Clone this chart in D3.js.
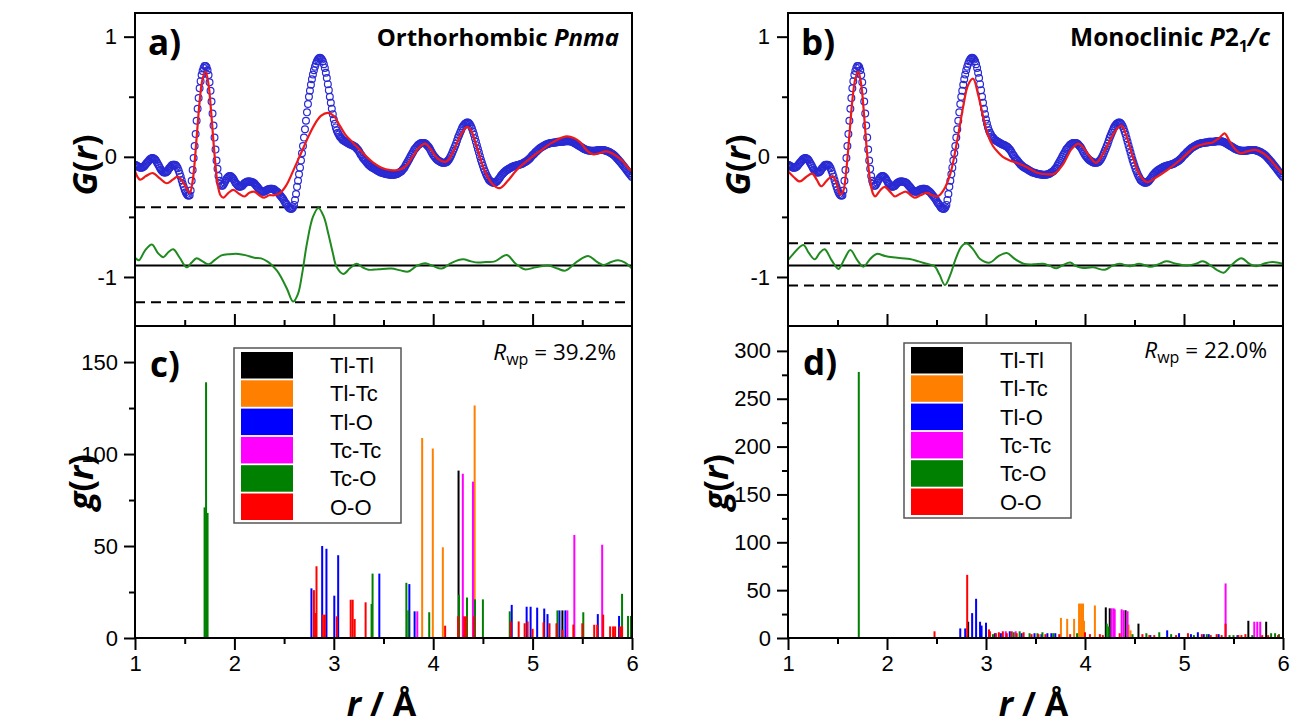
<!DOCTYPE html>
<html>
<head>
<meta charset="utf-8">
<script src="https://cdn.jsdelivr.net/npm/d3@7"></script>
<style>
  body { margin: 0; background: #fff; }
  svg text { font-family: "Liberation Sans", Arial, sans-serif; }
</style>
</head>
<body>
<svg id="chart" width="1293" height="727"></svg>
<script>
// observed G(r), same data in both fits, read every 0.01 A from r = 1.00 to 6.00
const rStart = 1.0;
const rStep = 0.01;
const gObs = [
  -0.065,-0.07,-0.075,-0.08,-0.085,-0.09,-0.09,-0.09,-0.085,-0.08,
  -0.07,-0.06,-0.05,-0.04,-0.03,-0.02,-0.015,-0.01,-0.01,-0.015,
  -0.02,-0.03,-0.045,-0.06,-0.075,-0.09,-0.105,-0.115,-0.125,-0.13,
  -0.13,-0.13,-0.125,-0.115,-0.10,-0.09,-0.08,-0.07,-0.065,-0.065,
  -0.065,-0.07,-0.08,-0.095,-0.115,-0.14,-0.165,-0.195,-0.225,-0.25,
  -0.275,-0.295,-0.31,-0.32,-0.325,-0.32,-0.28,-0.20,-0.11,-0.01,
  0.09,0.19,0.30,0.40,0.49,0.57,0.63,0.68,0.715,0.74,
  0.755,0.755,0.745,0.72,0.68,0.62,0.55,0.46,0.36,0.26,
  0.16,0.06,-0.03,-0.10,-0.16,-0.20,-0.225,-0.24,-0.24,-0.23,
  -0.215,-0.20,-0.185,-0.175,-0.165,-0.16,-0.16,-0.165,-0.175,-0.185,
  -0.20,-0.215,-0.225,-0.235,-0.245,-0.25,-0.25,-0.245,-0.24,-0.23,
  -0.22,-0.215,-0.21,-0.205,-0.205,-0.205,-0.205,-0.21,-0.21,-0.215,
  -0.22,-0.23,-0.24,-0.25,-0.26,-0.27,-0.28,-0.285,-0.29,-0.29,
  -0.29,-0.285,-0.28,-0.275,-0.27,-0.27,-0.265,-0.265,-0.265,-0.27,
  -0.27,-0.28,-0.285,-0.29,-0.30,-0.31,-0.32,-0.33,-0.34,-0.35,
  -0.365,-0.38,-0.39,-0.40,-0.415,-0.425,-0.43,-0.435,-0.43,-0.42,
  -0.40,-0.36,-0.31,-0.25,-0.20,-0.145,-0.09,-0.03,0.03,0.09,
  0.16,0.23,0.30,0.37,0.44,0.50,0.55,0.60,0.645,0.685,
  0.72,0.75,0.775,0.795,0.81,0.82,0.825,0.82,0.81,0.795,
  0.77,0.74,0.70,0.655,0.605,0.555,0.50,0.45,0.40,0.355,
  0.31,0.275,0.245,0.22,0.20,0.185,0.17,0.16,0.15,0.14,
  0.135,0.13,0.125,0.12,0.115,0.11,0.105,0.10,0.10,0.095,
  0.09,0.085,0.08,0.07,0.06,0.05,0.035,0.02,0.01,-0.005,
  -0.015,-0.025,-0.035,-0.045,-0.055,-0.065,-0.07,-0.08,-0.085,-0.09,
  -0.095,-0.10,-0.105,-0.11,-0.115,-0.12,-0.125,-0.13,-0.13,-0.135,
  -0.135,-0.14,-0.14,-0.145,-0.145,-0.145,-0.15,-0.15,-0.15,-0.15,
  -0.15,-0.15,-0.145,-0.145,-0.14,-0.135,-0.13,-0.125,-0.12,-0.11,
  -0.10,-0.09,-0.075,-0.06,-0.045,-0.03,-0.015,0.0,0.015,0.03,
  0.045,0.06,0.07,0.08,0.09,0.10,0.105,0.11,0.115,0.115,
  0.115,0.115,0.11,0.105,0.095,0.085,0.075,0.06,0.045,0.03,
  0.015,0.005,-0.005,-0.015,-0.025,-0.03,-0.035,-0.04,-0.045,-0.05,
  -0.05,-0.05,-0.05,-0.045,-0.04,-0.03,-0.02,-0.005,0.01,0.03,
  0.05,0.07,0.09,0.11,0.135,0.16,0.18,0.20,0.22,0.24,
  0.255,0.265,0.275,0.28,0.285,0.285,0.28,0.27,0.255,0.235,
  0.21,0.185,0.155,0.125,0.095,0.065,0.035,0.005,-0.025,-0.05,
  -0.075,-0.10,-0.12,-0.14,-0.16,-0.175,-0.19,-0.20,-0.205,-0.21,
  -0.215,-0.215,-0.215,-0.21,-0.205,-0.195,-0.185,-0.175,-0.16,-0.15,
  -0.14,-0.13,-0.125,-0.115,-0.11,-0.105,-0.10,-0.095,-0.09,-0.085,
  -0.08,-0.08,-0.075,-0.075,-0.07,-0.07,-0.065,-0.065,-0.06,-0.06,
  -0.055,-0.05,-0.045,-0.04,-0.035,-0.03,-0.02,-0.015,-0.005,0.005,
  0.015,0.02,0.03,0.04,0.045,0.055,0.06,0.07,0.075,0.08,
  0.085,0.09,0.095,0.10,0.105,0.105,0.11,0.11,0.115,0.115,
  0.115,0.12,0.12,0.12,0.12,0.125,0.125,0.125,0.125,0.125,
  0.125,0.125,0.13,0.13,0.13,0.13,0.13,0.13,0.13,0.125,
  0.125,0.12,0.115,0.11,0.105,0.10,0.095,0.09,0.085,0.08,
  0.075,0.07,0.065,0.06,0.058,0.055,0.053,0.052,0.05,0.05,
  0.05,0.05,0.05,0.05,0.052,0.054,0.055,0.056,0.057,0.057,
  0.057,0.056,0.055,0.053,0.05,0.047,0.044,0.04,0.035,0.03,
  0.025,0.02,0.013,0.005,-0.004,-0.013,-0.022,-0.032,-0.042,-0.052,
  -0.062,-0.072,-0.082,-0.093,-0.104,-0.115,-0.126,-0.137,-0.148,-0.158,
  -0.168
];

// calculated G(r), [r, G]
const calcPnma = [[1.00,-0.12],[1.05,-0.19],[1.11,-0.16],[1.18,-0.135],[1.25,-0.18],[1.32,-0.22],[1.38,-0.19],[1.43,-0.165],[1.49,-0.22],[1.55,-0.30],[1.58,-0.20],[1.62,0.16],[1.65,0.46],[1.68,0.65],[1.71,0.71],[1.74,0.60],[1.77,0.33],[1.80,0.02],[1.83,-0.22],[1.86,-0.32],[1.89,-0.34],[1.94,-0.30],[1.99,-0.275],[2.05,-0.31],[2.10,-0.33],[2.15,-0.30],[2.20,-0.29],[2.25,-0.32],[2.30,-0.34],[2.35,-0.32],[2.40,-0.32],[2.46,-0.30],[2.52,-0.24],[2.60,-0.10],[2.67,0.03],[2.74,0.16],[2.80,0.26],[2.87,0.34],[2.94,0.365],[3.00,0.34],[3.06,0.26],[3.12,0.18],[3.19,0.12],[3.26,0.06],[3.33,0.0],[3.40,-0.05],[3.48,-0.09],[3.57,-0.11],[3.65,-0.11],[3.72,-0.08],[3.80,0.01],[3.86,0.08],[3.92,0.11],[3.97,0.07],[4.04,-0.01],[4.13,-0.04],[4.20,0.04],[4.27,0.17],[4.34,0.25],[4.38,0.22],[4.44,0.08],[4.52,-0.12],[4.60,-0.23],[4.67,-0.26],[4.75,-0.20],[4.84,-0.11],[4.95,-0.03],[5.07,0.045],[5.20,0.12],[5.34,0.17],[5.42,0.155],[5.48,0.12],[5.55,0.05],[5.61,0.02],[5.67,0.03],[5.74,0.045],[5.82,0.02],[5.90,-0.03],[5.96,-0.09],[6.00,-0.12]];
const calcP21c = [[1.00,-0.12],[1.06,-0.17],[1.12,-0.205],[1.18,-0.17],[1.245,-0.14],[1.29,-0.19],[1.335,-0.245],[1.39,-0.20],[1.45,-0.16],[1.49,-0.22],[1.53,-0.315],[1.56,-0.28],[1.59,-0.10],[1.62,0.18],[1.65,0.47],[1.68,0.65],[1.71,0.71],[1.74,0.60],[1.77,0.33],[1.80,0.02],[1.83,-0.20],[1.86,-0.31],[1.88,-0.33],[1.93,-0.28],[1.976,-0.25],[2.03,-0.29],[2.08,-0.33],[2.13,-0.31],[2.19,-0.29],[2.24,-0.32],[2.28,-0.34],[2.34,-0.32],[2.40,-0.30],[2.46,-0.32],[2.51,-0.33],[2.57,-0.28],[2.64,-0.14],[2.71,0.14],[2.77,0.42],[2.82,0.60],[2.87,0.65],[2.92,0.52],[2.97,0.34],[3.02,0.18],[3.07,0.09],[3.12,0.04],[3.17,0.0],[3.24,-0.03],[3.31,-0.05],[3.40,-0.08],[3.51,-0.13],[3.61,-0.145],[3.69,-0.14],[3.78,-0.06],[3.86,0.06],[3.93,0.11],[3.98,0.08],[4.05,0.0],[4.11,-0.05],[4.18,0.02],[4.26,0.15],[4.33,0.24],[4.37,0.26],[4.42,0.17],[4.49,-0.02],[4.56,-0.16],[4.63,-0.21],[4.72,-0.17],[4.83,-0.11],[4.97,-0.02],[5.11,0.08],[5.22,0.11],[5.29,0.12],[5.36,0.16],[5.41,0.195],[5.46,0.13],[5.52,0.06],[5.57,0.03],[5.64,0.045],[5.72,0.058],[5.80,0.03],[5.88,-0.03],[5.95,-0.10],[6.00,-0.14]];

// difference curves (offset), [r, G]
const diffPnma = [[1.00,-0.84],[1.04,-0.86],[1.10,-0.78],[1.17,-0.73],[1.23,-0.80],[1.285,-0.835],[1.34,-0.79],[1.385,-0.77],[1.45,-0.84],[1.52,-0.92],[1.57,-0.88],[1.62,-0.845],[1.68,-0.87],[1.74,-0.895],[1.80,-0.86],[1.87,-0.82],[1.95,-0.81],[2.04,-0.808],[2.12,-0.82],[2.20,-0.84],[2.27,-0.845],[2.33,-0.87],[2.375,-0.90],[2.43,-0.95],[2.475,-1.01],[2.53,-1.10],[2.59,-1.205],[2.64,-1.14],[2.68,-0.98],[2.73,-0.72],[2.79,-0.50],[2.845,-0.425],[2.90,-0.50],[2.945,-0.64],[2.99,-0.80],[3.03,-0.92],[3.095,-0.975],[3.16,-0.93],[3.23,-0.89],[3.29,-0.92],[3.35,-0.94],[3.45,-0.935],[3.58,-0.93],[3.67,-0.945],[3.75,-0.955],[3.83,-0.91],[3.92,-0.886],[4.00,-0.91],[4.085,-0.93],[4.19,-0.88],[4.30,-0.853],[4.38,-0.87],[4.45,-0.88],[4.53,-0.875],[4.62,-0.87],[4.74,-0.817],[4.83,-0.89],[4.92,-0.936],[5.03,-0.92],[5.16,-0.905],[5.25,-0.93],[5.33,-0.947],[5.45,-0.87],[5.56,-0.825],[5.64,-0.87],[5.71,-0.90],[5.79,-0.875],[5.86,-0.86],[5.93,-0.88],[6.00,-0.93]];
const diffP21c = [[1.00,-0.86],[1.04,-0.82],[1.155,-0.733],[1.21,-0.80],[1.27,-0.853],[1.32,-0.80],[1.37,-0.77],[1.44,-0.86],[1.51,-0.933],[1.57,-0.85],[1.63,-0.775],[1.70,-0.86],[1.76,-0.914],[1.83,-0.85],[1.895,-0.808],[1.98,-0.825],[2.06,-0.836],[2.15,-0.845],[2.23,-0.85],[2.32,-0.87],[2.40,-0.89],[2.48,-0.91],[2.53,-0.98],[2.585,-1.067],[2.64,-0.98],[2.69,-0.858],[2.75,-0.75],[2.80,-0.72],[2.87,-0.77],[2.94,-0.85],[3.04,-0.88],[3.12,-0.83],[3.21,-0.80],[3.29,-0.85],[3.38,-0.89],[3.48,-0.895],[3.58,-0.89],[3.65,-0.91],[3.71,-0.928],[3.78,-0.90],[3.85,-0.88],[3.91,-0.91],[3.98,-0.925],[4.08,-0.92],[4.20,-0.94],[4.28,-0.905],[4.35,-0.89],[4.45,-0.91],[4.55,-0.89],[4.66,-0.915],[4.74,-0.895],[4.82,-0.87],[4.92,-0.89],[5.03,-0.905],[5.12,-0.89],[5.19,-0.87],[5.27,-0.905],[5.33,-0.94],[5.40,-0.964],[5.48,-0.90],[5.58,-0.844],[5.66,-0.89],[5.73,-0.91],[5.82,-0.885],[5.90,-0.875],[6.00,-0.89]];
const diffBase = -0.905;
const diffLimitsPnma = [-0.42, -1.21];
const diffLimitsP21c = [-0.72, -1.07];

// partial g(r) sticks, [r, g]
const pairNames = ["Tl-Tl", "Tl-Tc", "Tl-O", "Tc-Tc", "Tc-O", "O-O"];
const sticksPnma = {
  "Tl-Tl": [[4.255,91],[5.30,15]],
  "Tl-Tc": [[3.889,108.7],[3.996,103],[4.097,49.3],[4.417,126.4]],
  "Tl-O": [[2.775,27],[2.883,50],[2.926,48.5],[3.005,23],[3.044,45],[3.458,35],[3.76,29.3],[3.813,14.5],[4.79,18],[4.94,17],[4.98,17],[5.046,16.5],[5.117,16],[5.15,13],[5.27,15],[5.33,15],[5.656,13],[5.87,12]],
  "Tc-Tc": [[3.84,14.5],[4.298,89.3],[4.40,85],[5.35,15],[5.42,56],[5.70,50.7]],
  "Tc-O": [[1.70,71],[1.715,139],[1.73,68],[3.38,18.5],[3.39,35],[3.73,30],[3.75,15],[3.96,14],[4.26,23.5],[4.34,22],[4.42,21],[4.50,21],[4.77,14.5],[5.25,15],[5.51,14],[5.90,24],[5.96,12],[5.99,12]],
  "O-O": [[2.80,26],[2.815,13.6],[2.826,39],[2.89,12.7],[2.91,12.7],[3.03,11.8],[3.17,20.8],[3.19,20.8],[3.21,10.3],[3.32,19.4],[4.12,6.7],[4.25,11.8],[4.31,11.8],[4.33,11.8],[4.41,11.8],[4.78,9],[4.86,9],[4.92,8],[4.95,9],[5.0,5],[5.11,8.5],[5.17,8],[5.24,8],[5.30,4.5],[5.41,7.3],[5.50,8],[5.62,7.2],[5.65,7.2],[5.71,12.7],[5.78,6.3],[5.81,6.3],[5.83,6.3],[5.88,6.3],[5.90,6.3]]
};
const sticksP21c = {
  "Tl-Tl": [[2.82,17],[4.21,32],[4.25,31],[4.41,29],[4.54,15],[5.65,18],[5.83,17]],
  "Tl-Tc": [[3.757,21],[3.82,20],[3.89,20],[3.94,36],[3.96,36],[3.98,36],[3.99,18],[4.10,34],[4.44,14],[4.46,8]],
  "Tl-O": [[2.74,10],[2.79,10],[2.86,26],[2.90,41],[2.94,17],[2.955,13],[3.0,16],[3.09,5],[3.15,5],[3.24,7],[3.36,5],[3.49,5],[3.56,4],[3.62,5],[3.66,5],[3.70,5],[4.66,3],[4.83,8],[4.95,5],[5.07,4],[5.14,6],[5.20,4],[5.25,4],[5.35,4],[5.54,3]],
  "Tc-Tc": [[3.20,7],[3.30,7],[4.27,31],[4.29,31],[4.30,30],[4.37,30],[4.39,29],[4.43,28],[5.42,57],[5.71,17],[5.74,17],[5.77,17]],
  "Tc-O": [[1.715,278],[3.07,4],[3.28,6],[3.34,7],[3.44,5],[3.52,5],[3.57,6],[3.68,5],[3.92,5],[4.22,15],[4.24,12],[4.48,4],[4.62,5],[4.75,6],[4.87,4],[5.10,3],[5.23,4],[5.46,3],[5.50,3],[5.69,3],[5.88,5],[5.92,5],[5.96,4]],
  "O-O": [[2.48,7],[2.81,66],[3.03,9],[3.04,7],[3.10,5],[3.13,6],[3.17,7],[3.21,5],[3.26,7],[3.31,5],[3.38,6],[3.46,4],[3.53,4],[3.60,4],[3.74,4],[3.85,4],[4.0,6],[4.05,4],[4.15,4],[4.18,3],[4.35,5],[4.58,4],[4.65,3],[4.70,3],[4.92,3],[5.04,5],[5.18,4],[5.27,3],[5.33,4],[5.38,3],[5.42,15],[5.55,3],[5.58,3],[5.62,4],[5.79,3],[5.85,3],[5.95,3]]
};

const pairColors = { "Tl-Tl": "#000000", "Tl-Tc": "#ff8000", "Tl-O": "#0000ff", "Tc-Tc": "#ff00ff", "Tc-O": "#008000", "O-O": "#ff0000" };

const svg = d3.select("#chart");
const obsPoints = gObs.map((g, i) => ({ r: rStart + i * rStep, g: g }));
const topBox = [13, 326];
const botBox = [326, 638];
const labelFont = "'Open Sans', 'Liberation Sans', sans-serif";

function styleAxis(sel) {
  sel.select(".domain").remove();
  sel.selectAll(".tick line").attr("stroke", "#000").attr("stroke-width", 2);
  sel.selectAll(".tick text").attr("font-size", 22).attr("fill", "#000")
    .attr("font-family", "'Liberation Sans', Arial, sans-serif");
}

function frame(x0, x1, y0, y1) {
  svg.append("rect").attr("x", x0).attr("y", y0).attr("width", x1 - x0).attr("height", y1 - y0)
    .attr("fill", "none").attr("stroke", "#000").attr("stroke-width", 2);
}

function yTitle(xPos, yPos, letter) {
  const t = svg.append("text").attr("transform", `translate(${xPos},${yPos}) rotate(-90)`)
    .attr("text-anchor", "middle").attr("font-size", 34).attr("font-weight", "bold")
    .style("font-family", labelFont);
  t.append("tspan").attr("font-style", "italic").text(letter);
  t.append("tspan").text("(");
  t.append("tspan").attr("font-style", "italic").text("r");
  t.append("tspan").text(")");
}

function drawTop(o) {
  const x = d3.scaleLinear([1, 6], [o.x0, o.x1]);
  const y = d3.scaleLinear([-1.408, 1.197], [topBox[1], topBox[0]]);

  svg.append("clipPath").attr("id", "clip-" + o.id).append("rect")
    .attr("x", o.x0).attr("y", topBox[0]).attr("width", o.x1 - o.x0).attr("height", topBox[1] - topBox[0]);
  const plot = svg.append("g").attr("clip-path", `url(#clip-${o.id})`);

  plot.selectAll("line.lim").data(o.limits).join("line").attr("class", "lim")
    .attr("x1", o.x0).attr("x2", o.x1).attr("y1", d => y(d)).attr("y2", d => y(d))
    .attr("stroke", "#000").attr("stroke-width", 2).attr("stroke-dasharray", "10,6");
  plot.append("line").attr("x1", o.x0).attr("x2", o.x1).attr("y1", y(diffBase)).attr("y2", y(diffBase))
    .attr("stroke", "#000").attr("stroke-width", 2);

  plot.append("g").selectAll("circle").data(obsPoints).join("circle")
    .attr("cx", d => x(d.r)).attr("cy", d => y(d.g)).attr("r", 3.4)
    .attr("fill", "none").attr("stroke", "#2a2ad4").attr("stroke-width", 1.2);

  const line = d3.line().x(d => x(d[0])).y(d => y(d[1])).curve(d3.curveCatmullRom.alpha(0.5));
  plot.append("path").attr("d", line(o.calc)).attr("fill", "none").attr("stroke", "#ee1a1a").attr("stroke-width", 2.2);
  plot.append("path").attr("d", line(o.diff)).attr("fill", "none").attr("stroke", "#1f8a1f").attr("stroke-width", 2);

  frame(o.x0, o.x1, topBox[0], topBox[1]);

  const ax = svg.append("g").attr("transform", `translate(${o.x0},0)`)
    .call(d3.axisLeft(y).tickValues([-1, 0, 1]).tickSize(11).tickPadding(7).tickFormat(d => String(d)));
  styleAxis(ax);
  const axm = svg.append("g").attr("transform", `translate(${o.x0},0)`)
    .call(d3.axisLeft(y).tickValues([-0.5, 0.5]).tickSize(6).tickFormat(""));
  styleAxis(axm);
  const bx = svg.append("g").attr("transform", `translate(0,${topBox[1]})`)
    .call(d3.axisBottom(x).tickValues([2, 3, 4, 5]).tickSize(-12).tickFormat(""));
  styleAxis(bx);
  const bxm = svg.append("g").attr("transform", `translate(0,${topBox[1]})`)
    .call(d3.axisBottom(x).tickValues([1.5, 2.5, 3.5, 4.5, 5.5]).tickSize(-6).tickFormat(""));
  styleAxis(bxm);

  svg.append("text").attr("x", o.x0 + 13).attr("y", 55).attr("font-size", 35).attr("font-weight", "bold")
    .style("font-family", labelFont).text(o.tag);
  const t = svg.append("text").attr("x", o.x1 - 13).attr("y", 46).attr("text-anchor", "end")
    .attr("font-size", o.titleSize).attr("font-weight", "bold").style("font-family", labelFont);
  o.title.forEach(p => {
    const s = t.append("tspan").text(p.text);
    if (p.italic) s.attr("font-style", "italic");
    if (p.sub) s.attr("font-size", 16).attr("dy", 6);
    if (p.up) s.attr("dy", -6);
  });
  yTitle(o.x0 - 38, 165, "G");
}

function drawBottom(o) {
  const x = d3.scaleLinear([1, 6], [o.x0, o.x1]);
  const y = d3.scaleLinear([0, o.yMax], [botBox[1], botBox[0]]);

  svg.append("clipPath").attr("id", "clip-" + o.id).append("rect")
    .attr("x", o.x0).attr("y", botBox[0]).attr("width", o.x1 - o.x0).attr("height", botBox[1] - botBox[0]);
  const plot = svg.append("g").attr("clip-path", `url(#clip-${o.id})`);

  pairNames.forEach(name => {
    plot.append("g").selectAll("rect").data(o.sticks[name]).join("rect")
      .attr("x", d => x(d[0]) - 1).attr("width", 2)
      .attr("y", d => y(d[1])).attr("height", d => y(0) - y(d[1]))
      .attr("fill", pairColors[name]);
  });

  frame(o.x0, o.x1, botBox[0], botBox[1]);

  const ax = svg.append("g").attr("transform", `translate(${o.x0},0)`)
    .call(d3.axisLeft(y).tickValues(o.major).tickSize(11).tickPadding(6).tickFormat(d => String(d)));
  styleAxis(ax);
  const axm = svg.append("g").attr("transform", `translate(${o.x0},0)`)
    .call(d3.axisLeft(y).tickValues(o.minor).tickSize(6).tickFormat(""));
  styleAxis(axm);
  const bx = svg.append("g").attr("transform", `translate(0,${botBox[1]})`)
    .call(d3.axisBottom(x).tickValues([1, 2, 3, 4, 5, 6]).tickSize(12).tickPadding(5).tickFormat(d => String(d)));
  styleAxis(bx);
  const bxm = svg.append("g").attr("transform", `translate(0,${botBox[1]})`)
    .call(d3.axisBottom(x).tickValues([1.5, 2.5, 3.5, 4.5, 5.5]).tickSize(6).tickFormat(""));
  styleAxis(bxm);

  svg.append("text").attr("x", o.x0 + 15).attr("y", o.tagY).attr("font-size", 35).attr("font-weight", "bold")
    .style("font-family", labelFont).text(o.tag);

  const rw = svg.append("text").attr("x", o.x1 - 16).attr("y", o.rwpY).attr("text-anchor", "end")
    .attr("font-size", 22.5).style("font-family", labelFont);
  rw.append("tspan").attr("font-style", "italic").text("R");
  rw.append("tspan").attr("font-size", 16).attr("dy", 5).text("wp");
  rw.append("tspan").attr("dy", -5).text(" = " + o.rwp);

  // legend
  const lg = svg.append("g").attr("transform", `translate(${o.leg[0]},${o.leg[1]})`);
  lg.append("rect").attr("width", 167).attr("height", 175).attr("fill", "#fff")
    .attr("stroke", "#555").attr("stroke-width", 1.5);
  const rows = lg.selectAll("g.row").data(pairNames).join("g").attr("class", "row")
    .attr("transform", (d, i) => `translate(7,${4 + i * 28.3})`);
  rows.append("rect").attr("width", 52).attr("height", 26.5).attr("fill", d => pairColors[d]);
  rows.append("text").attr("x", 89).attr("y", 21).attr("font-size", 22).attr("fill", "#000").text(d => d);

  const xt = svg.append("text").attr("x", (o.x0 + o.x1) / 2 - 2).attr("y", 716).attr("text-anchor", "middle")
    .attr("font-size", 34).attr("font-weight", "bold").style("font-family", labelFont);
  xt.append("tspan").attr("font-style", "italic").text("r");
  xt.append("tspan").text(" / Å");

  yTitle(o.x0 - o.gTitleOff, 482, "g");
}

drawTop({ id: "a", x0: 135, x1: 632, calc: calcPnma, diff: diffPnma, limits: diffLimitsPnma, tag: "a)", titleSize: 24,
  title: [{ text: "Orthorhombic " }, { text: "Pnma", italic: true }] });
drawTop({ id: "b", x0: 788, x1: 1283, calc: calcP21c, diff: diffP21c, limits: diffLimitsP21c, tag: "b)", titleSize: 24.5,
  title: [{ text: "Monoclinic " }, { text: "P", italic: true }, { text: "2" }, { text: "1", sub: true }, { text: "/c", italic: true, up: true }] });
drawBottom({ id: "c", x0: 135, x1: 632, yMax: 169.6, sticks: sticksPnma, major: [0, 50, 100, 150], minor: [25, 75, 125],
  tag: "c)", tagY: 377, rwp: "39.2%", rwpY: 360, leg: [234, 348], gTitleOff: 42 });
drawBottom({ id: "d", x0: 788, x1: 1283, yMax: 326, sticks: sticksP21c, major: [0, 50, 100, 150, 200, 250, 300],
  minor: [25, 75, 125, 175, 225, 275], tag: "d)", tagY: 375, rwp: "22.0%", rwpY: 358, leg: [904, 343], gTitleOff: 60 });
</script>
</body>
</html>
